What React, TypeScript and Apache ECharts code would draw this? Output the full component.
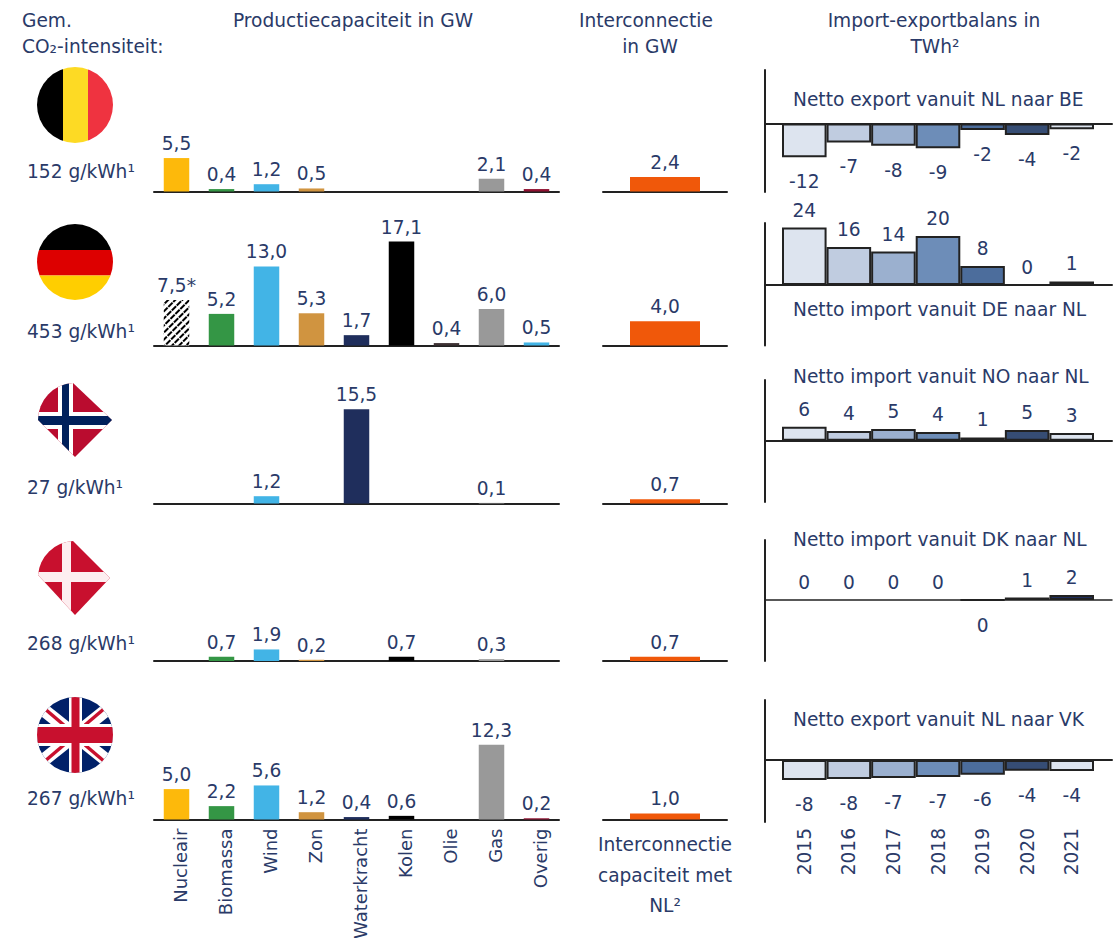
import React, { useEffect, useRef } from "react";
import * as echarts from "echarts";

const FONT = "'DejaVu Sans'";
const INK = "#2a3a68";
const RULE = "#222222";

const sources = ["Nucleair", "Biomassa", "Wind", "Zon", "Waterkracht", "Kolen", "Olie", "Gas", "Overig"];
const years = ["2015", "2016", "2017", "2018", "2019", "2020", "2021"];

const capacityBE = [5.5, 0.4, 1.2, 0.5, null, null, null, 2.1, 0.4];
const capacityDE = [7.5, 5.2, 13.0, 5.3, 1.7, 17.1, 0.4, 6.0, 0.5];
const capacityNO = [null, null, 1.2, null, 15.5, null, null, 0.1, null];
const capacityDK = [null, 0.7, 1.9, 0.2, null, 0.7, null, 0.3, null];
const capacityUK = [5.0, 2.2, 5.6, 1.2, 0.4, 0.6, null, 12.3, 0.2];

const interconnection = [2.4, 4.0, 0.7, 0.7, 1.0];

const balanceBE = [-12.1, -6.8, -8.0, -8.9, -2.3, -4.1, -2.1];
const balanceDE = [23.9, 15.8, 13.9, 20.4, 7.9, 0, 1.49];
const balanceNO = [6.0, 4.1, 5.0, 3.7, 1.4, 4.6, 3.3];
const balanceDK = [0, 0, 0, 0, -0.1, 1.0, 2.1];
const balanceUK = [-8.0, -7.6, -7.2, -6.8, -5.9, -4.3, -4.4];

const balanceMax = [19.1, 25.8, 25.8, 25.5, 24];
const balanceMin = [-24.5, -25.2, -26, -26, -24.8];

const sourceColors = ["#fdb90b", "#349645", "#42b4e6", "#d09440", "#1f2e5c", "#000000", "#3f3335", "#999999", "#8e1030"];
const overigDE = "#42b4e6";
const yearColors = ["#dde4ef", "#c0cce0", "#9bb0cf", "#6d8db8", "#4c6d9c", "#364d74", "#dde4ef"];
const lastYearDK = "#1f2e5c";
const interconnectColor = "#f0580a";

const intensityLabels = ["152 g/kWh¹", "453 g/kWh¹", "27 g/kWh¹", "268 g/kWh¹", "267 g/kWh¹"];
const balanceTitles = [
  "Netto export vanuit NL naar BE",
  "Netto import vanuit DE naar NL",
  "Netto import vanuit NO naar NL",
  "Netto import vanuit DK naar NL",
  "Netto export vanuit NL naar VK",
];

const baselines = [191.5, 345.5, 503.5, 661, 819.5];
const balanceTops = [70, 223, 380, 540, 700];
const balanceHeights = [122, 122.5, 122, 121, 122];
const intensityY = [171, 331, 487, 643, 798];
const titleY = [99, 309, 376, 539, 719];
const flagY = [105, 262, 420, 578, 735];

const svg = (inner: string, clip: string) =>
  "data:image/svg+xml;charset=utf-8," +
  encodeURIComponent(
    `<svg xmlns="http://www.w3.org/2000/svg" width="80" height="80" viewBox="0 0 80 80"><defs><clipPath id="c"><path d="${clip}"/></clipPath></defs><g clip-path="url(#c)">${inner}</g></svg>`
  );
const circle = "M2 40A38 38 0 1 1 78 40A38 38 0 1 1 2 40Z";
const kite = "M3 40A37 37 0 0 1 38 3L77 40L40 77Z";
const rect = (x: number, y: number, w: number, h: number, c: string) =>
  `<rect x="${x}" y="${y}" width="${w}" height="${h}" fill="${c}"/>`;
const line = (x1: number, y1: number, x2: number, y2: number, w: number, c: string) =>
  `<line x1="${x1}" y1="${y1}" x2="${x2}" y2="${y2}" stroke="${c}" stroke-width="${w}"/>`;

const flags = [
  svg(rect(0, 0, 28, 80, "#000") + rect(28, 0, 25, 80, "#fdda24") + rect(53, 0, 27, 80, "#ef3340"), circle),
  svg(rect(0, 0, 80, 28, "#000") + rect(0, 28, 80, 25.5, "#dd0000") + rect(0, 53.5, 80, 27, "#ffce00"), circle),
  svg(
    rect(0, 0, 80, 80, "#ba0c2f") + rect(23, 0, 15, 80, "#fff") + rect(0, 32, 80, 17, "#fff") +
      rect(27, 0, 7, 80, "#00205b") + rect(0, 36, 80, 9, "#00205b"),
    kite
  ),
  svg(rect(0, 0, 80, 80, "#c8102e") + rect(27, 0, 9, 80, "#fdeef0") + rect(0, 34, 80, 10, "#fdeef0"), "M3 37A37 37 0 0 1 38 3L75 40L40 77Z"),
  svg(
    rect(0, 0, 80, 80, "#012169") +
      line(0, 8, 80, 72, 13, "#fff") + line(0, 72, 80, 8, 13, "#fff") +
      line(10, 14, 30, 31, 3.5, "#c8102e") + line(50, 50, 70, 67, 3.5, "#c8102e") +
      line(70, 13, 50, 30, 3.5, "#c8102e") + line(30, 49, 10, 66, 3.5, "#c8102e") +
      rect(34, 0, 13, 80, "#fff") + rect(0, 29, 80, 22, "#fff") +
      rect(36.5, 0, 8, 80, "#c8102e") + rect(0, 32, 80, 16, "#c8102e"),
    circle
  ),
];

const SIZE = 18.6;
const text = (t: string, x: number, y: number, align = "center") => ({
  type: "text",
  x,
  y,
  silent: true,
  style: { text: t, fill: INK, fontFamily: FONT, fontSize: SIZE, align, verticalAlign: "middle" },
});

const comma = (v: number) => v.toFixed(1).replace(".", ",");

function buildOption() {
  const capacity = [capacityBE, capacityDE, capacityNO, capacityDK, capacityUK];
  const balance = [balanceBE, balanceDE, balanceNO, balanceDK, balanceUK];
  const grid: any[] = [];
  const xAxis: any[] = [];
  const yAxis: any[] = [];
  const series: any[] = [];
  const pxPerGW = 6.08;
  const maxGW = 20;
  const gridH = pxPerGW * maxGW;
  const baseAxisLine = { show: true, onZero: false, lineStyle: { color: RULE, width: 2 } };
  const label = { color: INK, fontFamily: FONT, fontSize: SIZE };

  baselines.forEach((base, i) => {
    // production capacity
    let g = grid.length;
    grid.push({ left: 154, width: 405, top: base - gridH, height: gridH, outerBoundsMode: "none" });
    xAxis.push({
      gridIndex: g,
      type: "category",
      data: sources,
      axisLine: baseAxisLine,
      axisTick: { show: false },
      axisLabel:
        i === 4
          ? {
              show: true,
              rotate: 90,
              interval: 0,
              margin: 9,
              formatter: "{a|{value}}",
              rich: { a: { color: INK, fontFamily: FONT, fontSize: 18, padding: [7, 0, 0, 0] } },
            }
          : { show: false },
    });
    yAxis.push({ gridIndex: g, type: "value", min: 0, max: maxGW, show: false });
    series.push({
      type: "bar",
      xAxisIndex: g,
      yAxisIndex: g,
      barWidth: 25.5,
      data: capacity[i].map((v, k) => {
        const hatched = i === 1 && k === 0;
        const color = i === 1 && k === 8 ? overigDE : sourceColors[k];
        return {
          value: v,
          itemStyle: hatched
            ? {
                color: "#ffffff",
                decal: {
                  symbol: "rect",
                  color: "#000000",
                  backgroundColor: "#ffffff",
                  dashArrayX: [6, 1],
                  dashArrayY: [2, 3],
                  rotation: -Math.PI / 4,
                  symbolSize: 1,
                },
              }
            : { color },
        };
      }),
      label: {
        show: true,
        position: "top",
        distance: 5,
        ...label,
        formatter: (p: any) => comma(p.value) + (i === 1 && p.dataIndex === 0 ? "*" : ""),
      },
    });

    // interconnection
    g = grid.length;
    grid.push({ left: 603, width: 124, top: base - gridH, height: gridH, outerBoundsMode: "none" });
    xAxis.push({
      gridIndex: g,
      type: "category",
      data: ["Interconnectie"],
      axisLine: baseAxisLine,
      axisTick: { show: false },
      axisLabel: { show: false },
    });
    yAxis.push({ gridIndex: g, type: "value", min: 0, max: maxGW, show: false });
    series.push({
      type: "bar",
      xAxisIndex: g,
      yAxisIndex: g,
      barWidth: 70,
      itemStyle: { color: interconnectColor },
      data: [interconnection[i]],
      label: { show: true, position: "top", distance: 5, ...label, formatter: (p: any) => comma(p.value) },
    });

    // balance: frame with the vertical rule and the zero rule
    g = grid.length;
    grid.push({ left: 765, width: 347, top: balanceTops[i], height: balanceHeights[i], outerBoundsMode: "none" });
    xAxis.push({
      gridIndex: g,
      type: "value",
      min: 0,
      max: 1,
      axisLine: { show: true, onZero: true, lineStyle: { color: RULE, width: i === 3 ? 1.5 : 2 } },
      axisTick: { show: false },
      axisLabel: { show: false },
      splitLine: { show: false },
    });
    yAxis.push({
      gridIndex: g,
      type: "value",
      min: balanceMin[i],
      max: balanceMax[i],
      axisLine: { show: true, onZero: false, lineStyle: { color: RULE, width: 2 } },
      axisTick: { show: false },
      axisLabel: { show: false },
      splitLine: { show: false },
    });

    // balance: bars
    g = grid.length;
    grid.push({ left: 782, width: 312, top: balanceTops[i], height: balanceHeights[i], outerBoundsMode: "none" });
    xAxis.push({
      gridIndex: g,
      type: "category",
      data: years,
      axisLine: { show: false },
      axisTick: { show: false },
      axisLabel:
        i === 4
          ? { show: true, rotate: 90, interval: 0, margin: 6, color: INK, fontFamily: FONT, fontSize: SIZE }
          : { show: false },
    });
    yAxis.push({ gridIndex: g, type: "value", min: balanceMin[i], max: balanceMax[i], show: false });
    series.push({
      type: "bar",
      xAxisIndex: g,
      yAxisIndex: g,
      barWidth: "100%",
      data: balance[i].map((v, k) => ({
        value: v,
        itemStyle: {
          color: i === 3 && k === 6 ? lastYearDK : yearColors[k],
          borderColor: RULE,
          borderWidth: v === 0 ? 0 : 2,
        },
        label: { position: v < 0 ? "bottom" : "top", distance: v < 0 ? 15 : 8 },
      })),
      label: { show: true, ...label, formatter: (p: any) => String(Math.round(p.value)) },
    });
  });

  const graphic: any[] = [
    text("Gem.", 22, 20, "left"),
    text("CO₂-intensiteit:", 22, 46, "left"),
    text("Productiecapaciteit in GW", 353, 20),
    text("Interconnectie", 646, 20),
    text("in GW", 650, 46),
    text("Import-exportbalans in", 934, 20),
    text("TWh²", 935, 46),
    text("Interconnectie", 665, 844),
    text("capaciteit met", 665, 875),
    text("NL²", 665, 905),
  ];
  intensityLabels.forEach((t, i) => graphic.push(text(t, 27, intensityY[i], "left")));
  balanceTitles.forEach((t, i) => graphic.push(text(t, 793, titleY[i], "left")));
  flags.forEach((image, i) =>
    graphic.push({ type: "image", x: 35, y: flagY[i] - 40, silent: true, style: { image, width: 80, height: 80 } })
  );

  return { animation: false, backgroundColor: "#ffffff", grid, xAxis, yAxis, series, graphic };
}

export default function App() {
  const ref = useRef<HTMLDivElement>(null);
  useEffect(() => {
    const chart = echarts.init(ref.current!, undefined, { renderer: "svg" });
    chart.setOption(buildOption() as any);
    return () => chart.dispose();
  }, []);
  return <div ref={ref} style={{ position: "absolute", left: 0, top: 0, width: 1116, height: 938 }} />;
}
